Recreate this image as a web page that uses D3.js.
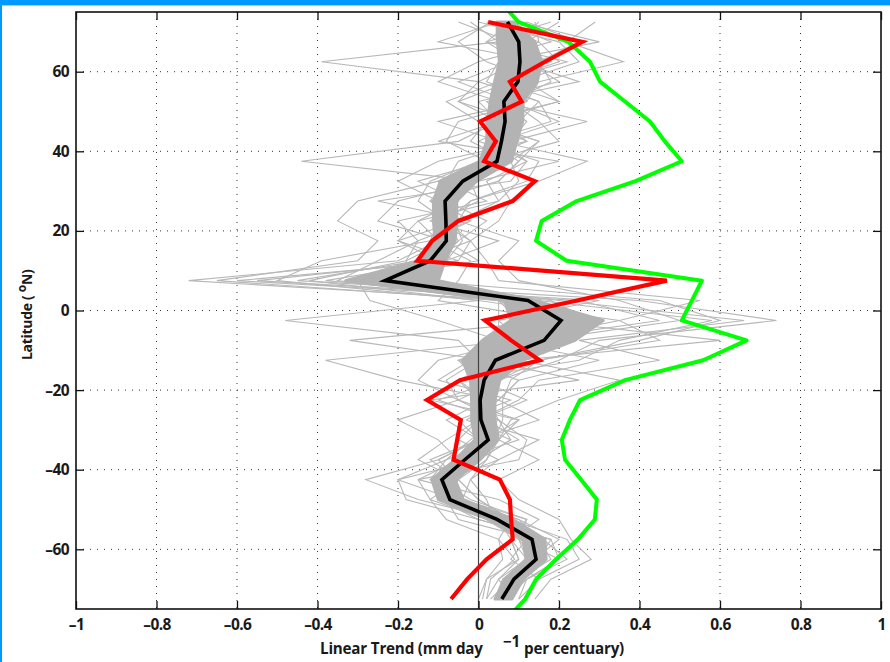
<!DOCTYPE html>
<html><head><meta charset="utf-8">
<script src="https://cdn.jsdelivr.net/npm/d3@7"></script>
<style>body{margin:0;background:#fff;}svg{display:block;}</style>
</head><body>
<svg id="chart" width="890" height="662"></svg>
<script>
// ---------------- DATA ----------------
const latitudes = [72.5,67.5,62.5,57.5,52.5,47.5,42.5,37.5,32.5,27.5,22.5,17.5,12.5,7.5,2.5,-2.5,-7.5,-12.5,-17.5,-22.5,-27.5,-32.5,-37.5,-42.5,-47.5,-52.5,-57.5,-62.5,-67.5,-72.5];

const meanTrend = [0.072,0.100,0.103,0.098,0.063,0.066,0.057,0.046,-0.039,-0.083,-0.081,-0.080,-0.120,-0.232,0.123,0.205,0.163,0.042,0.014,0.004,0.006,0.024,-0.034,-0.091,-0.071,0.046,0.133,0.143,0.088,0.058];
const bandLow  = [0.046,0.047,0.052,0.040,0.029,0.022,0.020,0.004,-0.095,-0.112,-0.112,-0.108,-0.150,-0.330,0.065,0.080,0.010,-0.040,-0.020,-0.017,-0.017,-0.009,-0.058,-0.116,-0.100,0.029,0.111,0.118,0.066,0.041];
const bandHigh = [0.088,0.140,0.157,0.146,0.111,0.110,0.095,0.082,-0.005,-0.054,-0.054,-0.058,-0.083,-0.100,0.140,0.310,0.240,0.110,0.053,0.041,0.041,0.049,0.004,-0.058,-0.038,0.086,0.165,0.168,0.111,0.083];

const redTrend = [0.024,0.258,0.165,0.078,0.107,0.004,0.043,0.014,0.140,0.085,-0.050,-0.115,-0.152,0.468,0.245,0.016,0.081,0.152,-0.046,-0.128,-0.044,-0.053,-0.062,0.053,0.078,0.081,0.085,0.020,-0.028,-0.068];

const greenLatitudes = [77.5,72.5,67.5,62.5,57.5,52.5,47.5,42.5,37.5,32.5,27.5,22.5,17.5,12.5,7.5,2.5,-2.5,-7.5,-12.5,-17.5,-22.5,-27.5,-32.5,-37.5,-42.5,-47.5,-52.5,-57.5,-62.5,-67.5,-72.5,-77.5];
const greenTrend = [0.055,0.099,0.223,0.277,0.302,0.364,0.426,0.463,0.505,0.390,0.244,0.157,0.143,0.219,0.555,0.530,0.505,0.666,0.558,0.364,0.252,0.227,0.207,0.215,0.255,0.294,0.289,0.247,0.193,0.143,0.116,0.070];

const model01 = [0.02,0.15,0.20,0.05,0.10,0.02,0.12,0.00,-0.10,-0.05,-0.15,-0.10,-0.20,-0.72,0.10,0.30,0.20,0.05,-0.05,0.02,0.05,-0.02,-0.08,-0.12,-0.05,0.10,0.15,0.18,0.10,0.05];
const model02 = [0.12,0.05,-0.39,0.00,0.15,0.10,0.02,0.10,0.05,-0.12,-0.05,-0.20,-0.05,-0.60,0.25,0.45,0.10,-0.05,0.10,0.05,-0.03,0.08,0.00,-0.05,-0.12,0.02,0.10,0.12,0.05,0.08];
const model03 = [0.29,0.22,0.36,0.15,0.05,0.27,0.08,0.05,-0.02,0.00,-0.10,-0.02,-0.15,-0.45,0.40,0.74,0.30,0.20,0.05,-0.05,0.10,0.05,0.02,-0.05,0.00,0.08,0.22,0.25,0.15,0.10];
const model04 = [-0.05,0.08,0.12,0.20,0.00,0.05,-0.05,-0.44,0.00,-0.20,-0.25,-0.08,0.00,-0.30,-0.27,-0.10,0.05,-0.02,-0.10,0.08,-0.05,0.00,-0.10,-0.28,-0.15,0.05,0.08,0.10,0.02,0.00];
const model05 = [0.10,0.30,0.05,0.12,0.20,0.00,0.15,0.08,-0.05,-0.10,-0.02,-0.15,-0.25,-0.35,0.05,0.15,0.60,0.10,0.00,-0.02,0.02,0.10,-0.05,-0.10,-0.02,0.12,0.10,0.20,0.12,0.04];
const model06 = [0.05,-0.10,0.15,0.08,-0.05,0.10,0.00,0.15,0.12,-0.02,-0.08,-0.05,-0.10,-0.20,0.20,0.66,0.25,0.45,0.15,0.10,0.00,-0.05,0.05,-0.08,-0.10,0.00,0.18,0.15,0.08,0.06];
const model07 = [0.20,0.12,0.08,-0.05,0.08,0.15,0.20,0.02,-0.15,-0.05,-0.12,0.05,-0.08,-0.55,0.30,0.05,0.10,-0.10,-0.15,-0.05,0.05,0.12,0.10,-0.15,0.05,0.15,0.08,0.10,0.05,0.02];
const model08 = [0.00,0.20,0.25,0.10,0.12,-0.10,0.05,0.12,0.08,-0.25,-0.02,-0.12,-0.02,-0.05,-0.10,0.20,-0.32,0.02,0.25,-0.12,0.10,0.02,-0.02,-0.10,-0.05,0.06,0.12,0.08,0.15,0.12];
const model09 = [0.08,0.02,0.10,0.25,0.02,0.08,0.10,-0.05,-0.08,0.02,-0.20,-0.15,-0.18,-0.42,0.00,0.35,0.45,0.15,0.05,0.02,-0.08,0.00,-0.12,-0.05,-0.08,-0.05,0.14,0.16,0.10,0.08];
const model10 = [0.15,0.10,0.05,0.06,0.10,0.05,-0.10,0.20,0.00,-0.08,0.02,-0.05,-0.12,-0.25,0.15,0.58,0.35,0.25,-0.05,0.00,0.03,0.05,-0.08,-0.20,-0.06,0.10,0.20,0.14,0.06,0.05];
const model11 = [0.06,0.18,0.00,-0.10,0.05,0.12,0.08,0.00,-0.12,-0.15,-0.08,-0.02,-0.05,-0.30,0.05,0.25,0.05,0.30,0.10,0.05,-0.02,0.15,0.05,-0.02,0.02,0.04,0.16,0.22,0.12,0.07];
const model12 = [-0.02,0.05,0.18,0.05,0.20,0.02,-0.02,0.08,0.10,0.05,-0.15,-0.20,-0.10,-0.10,0.05,0.10,0.20,-0.05,0.00,0.12,0.00,-0.08,-0.15,-0.05,-0.10,0.02,0.10,0.14,0.08,0.03];
const model13 = [0.12,0.25,0.15,0.18,0.08,0.20,0.05,0.27,0.15,-0.02,-0.05,0.10,0.05,0.10,0.35,0.50,0.15,0.10,0.35,0.20,0.08,0.05,0.15,0.05,0.10,0.20,0.23,0.28,0.18,0.14];
const model14 = [0.04,0.12,0.10,0.00,-0.05,0.05,0.12,-0.10,-0.20,-0.10,-0.10,-0.12,-0.39,-0.50,0.00,-0.48,-0.05,0.00,-0.08,-0.05,-0.20,-0.10,-0.05,-0.15,-0.12,-0.08,0.05,0.06,0.02,0.01];
const model15 = [0.10,0.08,0.12,0.10,0.05,0.08,0.05,0.05,-0.02,-0.10,-0.08,-0.10,-0.15,-0.28,0.10,0.20,0.15,0.05,0.00,0.00,0.00,0.02,-0.04,-0.10,-0.08,0.05,0.13,0.14,0.09,0.06];
const model16 = [0.07,0.10,0.08,0.12,0.08,0.06,0.04,0.06,-0.05,-0.06,-0.10,-0.06,-0.10,-0.20,0.15,0.22,0.18,0.02,0.03,-0.01,0.02,0.01,-0.02,-0.08,-0.06,0.06,0.12,0.15,0.10,0.07];
const model17 = [0.18,0.02,0.22,0.05,-0.08,0.00,0.15,0.10,0.05,0.08,0.05,-0.02,0.02,0.05,0.55,0.35,0.10,-0.38,-0.20,0.05,0.15,0.00,-0.10,-0.05,0.00,0.08,0.05,0.09,0.03,0.02];
const model18 = [0.03,-0.05,0.02,0.15,0.12,-0.05,-0.08,0.02,-0.10,-0.30,-0.35,-0.25,-0.30,-0.65,0.05,0.05,0.05,0.08,0.05,-0.10,0.05,0.08,0.00,-0.20,-0.18,0.00,0.18,0.20,0.12,0.10];
const model19 = [0.14,0.15,0.05,0.02,0.15,0.18,0.02,0.12,0.02,0.05,-0.05,-0.08,-0.18,-0.15,0.45,0.60,0.40,0.15,0.08,0.06,0.06,0.04,0.02,-0.02,-0.04,0.12,0.08,0.12,0.06,0.04];
const model20 = [0.09,0.13,0.12,0.07,0.03,0.04,0.07,0.03,-0.08,-0.12,-0.06,-0.04,-0.08,-0.38,0.18,0.28,0.12,0.06,0.02,0.02,-0.01,0.03,-0.05,-0.12,-0.07,0.03,0.15,0.16,0.11,0.06];
const modelRuns = [model01,model02,model03,model04,model05,model06,model07,model08,model09,model10,model11,model12,model13,model14,model15,model16,model17,model18,model19,model20];

const xTicks = [-1,-0.8,-0.6,-0.4,-0.2,0,0.2,0.4,0.6,0.8,1];
const yTicks = [-60,-40,-20,0,20,40,60];

// ---------------- CHART ----------------
const svg = d3.select("#chart");
const L = 76, R = 881, T = 12, B = 609;
const x = d3.scaleLinear().domain([-1, 1]).range([L, R]);
const y = d3.scaleLinear().domain([-75, 75]).range([B, T]);
const FONT = "'Open Sans', 'DejaVu Sans', sans-serif";

// blue frame
svg.append("rect").attr("x",0).attr("y",0).attr("width",890).attr("height",5).attr("fill","#0099ff");
svg.append("rect").attr("x",0).attr("y",5).attr("width",890).attr("height",1).attr("fill","#9fd3ff");
svg.append("rect").attr("x",0).attr("y",0).attr("width",2).attr("height",662).attr("fill","#0099ff");

svg.append("defs").append("clipPath").attr("id","plotclip")
  .append("rect").attr("x",L).attr("y",T).attr("width",R-L).attr("height",B-T);

// grid
const grid = svg.append("g");
grid.selectAll(".gx").data(xTicks.filter(d => d > -1 && d < 1 && d !== 0)).join("line")
  .attr("x1", d => x(d)).attr("x2", d => x(d)).attr("y1", T).attr("y2", B)
  .attr("stroke","#333").attr("stroke-width",1).attr("stroke-dasharray","1,6");
grid.selectAll(".gy").data(yTicks).join("line")
  .attr("y1", d => y(d)).attr("y2", d => y(d)).attr("x1", L).attr("x2", R)
  .attr("stroke","#333").attr("stroke-width",1).attr("stroke-dasharray","1,6");

const plot = svg.append("g").attr("clip-path","url(#plotclip)");
const line = d3.line().x(d => x(d[0])).y(d => y(d[1]));

// model runs
plot.selectAll(".model").data(modelRuns).join("path")
  .attr("d", s => line(s.map((v,i) => [v, latitudes[i]])))
  .attr("fill","none").attr("stroke","#b8b8b8").attr("stroke-width",1.1);

// spread band
const area = d3.area().y(d => y(d.lat)).x0(d => x(d.lo)).x1(d => x(d.hi)).curve(d3.curveLinear);
plot.append("path")
  .attr("d", area(latitudes.map((lat,i) => ({lat, lo: bandLow[i], hi: bandHigh[i]}))))
  .attr("fill","#b3b3b3").attr("stroke","#b3b3b3").attr("stroke-width",3).attr("stroke-linejoin","round");

// zero line
plot.append("line").attr("x1",x(0)).attr("x2",x(0)).attr("y1",T).attr("y2",B)
  .attr("stroke","#444").attr("stroke-width",1.2);

// green
plot.append("path").attr("d", line(greenTrend.map((v,i) => [v, greenLatitudes[i]])))
  .attr("fill","none").attr("stroke","#00ff00").attr("stroke-width",4).attr("stroke-linejoin","round");
// black mean
plot.append("path").attr("d", line(meanTrend.map((v,i) => [v, latitudes[i]])))
  .attr("fill","none").attr("stroke","#000").attr("stroke-width",3.6).attr("stroke-linejoin","miter");
// red
plot.append("path").attr("d", line(redTrend.map((v,i) => [v, latitudes[i]])))
  .attr("fill","none").attr("stroke","#ff0000").attr("stroke-width",4.2).attr("stroke-linejoin","miter");

// axes
const fmtX = d => d === 0 ? "0" : (d < 0 ? "\u2013" : "") + String(Math.abs(d));
const fmtY = d => d === 0 ? "0" : (d < 0 ? "\u2013" : "") + Math.abs(d);

const ax = svg.append("g").attr("transform",`translate(0,${B})`)
  .call(d3.axisBottom(x).tickValues(xTicks).tickFormat(fmtX).tickSizeInner(-8).tickSizeOuter(0).tickPadding(10));
const axT = svg.append("g").attr("transform",`translate(0,${T})`)
  .call(d3.axisTop(x).tickValues(xTicks).tickFormat("").tickSizeInner(-8).tickSizeOuter(0));
const ay = svg.append("g").attr("transform",`translate(${L},0)`)
  .call(d3.axisLeft(y).tickValues(yTicks).tickFormat(fmtY).tickSizeInner(-8).tickSizeOuter(0).tickPadding(7));
const ayR = svg.append("g").attr("transform",`translate(${R},0)`)
  .call(d3.axisRight(y).tickValues(yTicks).tickFormat("").tickSizeInner(-8).tickSizeOuter(0));
[ax, axT, ay, ayR].forEach(g => {
  g.select(".domain").remove();
  g.selectAll(".tick line").attr("stroke","#111").attr("stroke-width",1.3);
  g.selectAll(".tick text").attr("font-family",FONT).attr("font-weight","bold")
    .attr("font-size",15.5).attr("fill","#1a1a1a").attr("letter-spacing","-0.6px");
});

// frame
svg.append("rect").attr("x",L).attr("y",T).attr("width",R-L).attr("height",B-T)
  .attr("fill","none").attr("stroke","#111").attr("stroke-width",1.6);

// x label
const xl = svg.append("text").attr("x",320).attr("y",654)
  .attr("font-family",FONT).attr("font-weight","bold").attr("font-size",15.2).attr("fill","#1a1a1a").attr("letter-spacing","-0.2px");
xl.append("tspan").text("Linear Trend (mm day");
xl.append("tspan").attr("x",503).attr("dy",-7).text("\u22121");
xl.append("tspan").attr("x",524).attr("dy",7).text("per centuary)");

// y label
const yl = svg.append("text").attr("transform","translate(32,360) rotate(-90)")
  .attr("font-family",FONT).attr("font-weight","bold").attr("font-size",14).attr("fill","#1a1a1a").attr("letter-spacing","-0.3px");
yl.append("tspan").text("Latitude (  ");
yl.append("tspan").attr("dy",-6).attr("font-size",12).text("o");
yl.append("tspan").attr("dy",6).text("N)");
</script>
</body></html>
